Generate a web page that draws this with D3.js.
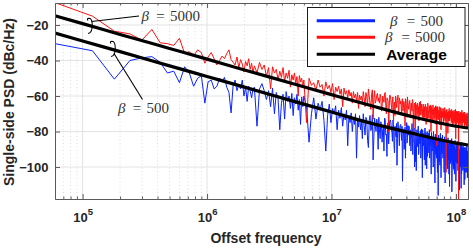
<!DOCTYPE html>
<html><head><meta charset="utf-8">
<script src="https://cdn.jsdelivr.net/npm/d3@7"></script>
<style>body{margin:0;background:#fff}svg{display:block}</style>
</head><body><svg id="c" width="473" height="248"></svg>
<script>
// FFT bin spacing (Hz) and the bins that are plotted
const binHz = 60000;
const binIndex = [].concat(d3.range(1, 40), d3.range(40, 100, 2), d3.range(100, 300, 5), d3.range(300, 2090, 10));
const binMid = d3.range(305, 2080, 10);

// beta = 500 (blue), dBc/Hz
const psd500 = [
  -30.5,-34.5,-50.5,-40,-38.5,-37.8,-41,-47,-46,-52.5,
  -43.5,-47,-54.5,-50,-48.5,-64,-52,-51,-56,-54.5,
  -50,-52,-49.5,-55,-58,-69.5,-54,-51,-57,-53.5,
  -56,-51,-60,-55,-63,-54.5,-57,-61,-56,
  -55,-77,-56,-53,-57,-62,-57,-66,-55.5,-70,
  -58,-61.5,-79,-64,-59,-73,-57.5,-63,-60,-67,
  -58.5,-71,-61,-64.5,-59,-68,-62,-76,-60.5,-66,
  -60,-66,-86,-70,-61,-73,-64,-68,-63,-74,
  -91,-71,-64.5,-75,-67,-70,-65.5,-79,-68,-72.5,
  -66.5,-77,-70,-73.5,-68,-88,-71,-75,-69.5,-80,
  -72,-76,-70,-95,-73,-77.5,-71,-79,-74,-84,
  -70,-82,-73.5,-89,-71,-78,-96,-72.5,-80,-75,
  -72,-84,-75.5,-79,-91,-73,-81.5,-76,-87,-74,
  -75,-80.5,-73.5,-88,-77,-83,-99,-74.5,-81,-78,
  -76,-85,-108,-80,-90,-77.5,-82,-75,-83.5,-79,
  -77,-88,-79.5,-84,-75.5,-93,-81,-86,-78,-97,
  -102,-79,-86.5,-77,-91,-83,-80,-95,-78.5,-85,
  -79,-88,-81,-96,-78,-86.5,-83,-101,-80,-89,
  -81,-92,-79,-87,-84,-98,-80.5,-90,-83,-86,
  -80,-89,-85,-109,-81.5,-93,-82,-87.5,-96,-84,
  -116,-82,-91,-85,-99,-81,-88.5,-94,-83.5,-90,
  -82,-95,-86,-90,-103,-83,-92,-87,-99,-85,
  -84,-91,-88,-101,-83.5,-96,-87,-93,-111,-86,
  -85,-98,-89,-92,-84,-111,-90,-95,-87,-101,
  -86,-93,-88.5,-104,-85,-97,-91,-100,-87,-95,
  -89,-96,-85.5,-102,-92,-88,-99,-90.5,-113,-94,
  -87,-100,-90,-95,-86,-104,-92,-97,-89,-101,
  -88,-94,-99,-91,-110,-89,-96,-93,-103,-90,
  -89,-97,-92,-101,-88,-95,-106,-91,-98
];
// beta = 500, in-between bins (binMid)
const psd500Mid = [
  -76.5,-72,-85,-74,-79.5,-70.5,-83,-77,-73,-90,
  -79,-74.5,-86,-77.5,-72.5,-82,-94,-75,-80,-73.5,
  -79,-85.5,-76,-92,-80.5,-75.5,-84,-78,-88,-76.5,
  -81,-77,-89,-78.5,-84,-95,-80,-86.5,-76.5,-82,
  -83,-79,-91,-81.5,-86,-78.5,-84,-100,-80,-88,
  -84,-88.5,-80.5,-93,-82,-87,-79.5,-90,-83.5,-106,
  -85,-81.5,-92,-84,-99,-80.5,-88,-85.5,-94,-82,
  -86,-82,-95,-84.5,-89,-104,-83,-91,-87,-100,
  -87,-83,-98,-86,-91.5,-82.5,-95,-88,-103,-85.5,
  -87.5,-84,-97,-89,-93,-85,-106,-88,-92.5,-86,
  -88,-93.5,-84.5,-98,-89,-86,-109,-90,-95,-87,
  -89,-94.5,-86,-99,-90.5,-88,-104,-91,-85.5,-97,
  -90,-87,-96.5,-89,-114,-91.5,-86.5,-99,-93,-88,
  -89.5,-102,-91,-87.5,-96,-90,-108,-92.5,-88,-98,
  -91,-97.5,-88,-100,-92.5,-89,-95,-105,-90,-93,
  -90.5,-96,-88.5,-112,-93,-91,-99,-89.5,-95.5,-102,
  -92,-89,-101,-94,-90.5,-98,-107,-91.5,-96,-89,
  -93,-99,-90,-103,-94.5,-91,-100,-95
];

// beta = 5000 (red), dBc/Hz
const psd5000 = [
  -7.4,-15,-23.5,-25,-28.5,-22.5,-30,-30.5,-31.5,-27.5,
  -36,-35,-37.5,-34,-35.5,-41.5,-38,-35.5,-39,-42.5,
  -40,-37.5,-39,-36,-34,-39.5,-41,-42.5,-38,-44,
  -39.5,-42,-46.5,-40.5,-43,-39,-45,-41.5,-47,
  -43,-47,-41,-45,-42.5,-49,-44,-56,-43.5,-47,
  -45,-51,-46,-49.5,-44,-52,-47,-50,-45.5,-55,
  -48,-51,-47,-53,-49,-60,-48.5,-52,-50,-55,
  -51,-75,-50,-54,-52.5,-57,-51,-55,-53.5,-60,
  -52,-56,-54,-58,-53,-62,-55,-57.5,-54.5,-59,
  -56,-66,-55.5,-59,-57,-61,-56.5,-60,-58,-64,
  -57.5,-61,-59,-63,-58,-67,-59.5,-62,-60,-64,
  -57.5,-66,-60.5,-56,-64,-59,-73,-57,-62.5,-58.5,
  -61,-59,-68.5,-60,-63.5,-58,-70,-61.5,-80,-59.5,
  -62,-67.5,-60.5,-65,-71,-61,-64,-59.5,-68,-62.5,
  -63,-70,-61.5,-66.5,-64,-77,-62,-67,-60.5,-65.5,
  -66,-62.5,-72,-64,-68.5,-63,-86,-65,-69.5,-63.5,
  -65,-71.5,-64,-68,-74,-63.5,-67,-70.5,-64.5,-69,
  -67,-64.5,-73,-66,-70.5,-65,-76,-66.5,-71,-64,
  -68,-72.5,-65.5,-70,-67,-80,-66,-71.5,-68.5,-65,
  -67.5,-74,-66.5,-71,-68,-73,-66,-88,-69,-70.5,
  -68,-71.5,-67,-76,-69.5,-66.5,-72,-68.5,-75,-67.5,
  -69,-72,-67.5,-74.5,-70,-68,-71,-69.5,-73,-103,
  -70,-67.5,-73,-69,-76,-68.5,-71.5,-67,-74,-70.5,
  -68,-72.5,-69.5,-75,-67.5,-71,-70,-77,-68.5,-73,
  -70,-68,-74,-69.5,-72,-67.5,-84,-70.5,-73.5,-68.5,
  -71,-69,-75,-70,-72.5,-118,-68.5,-74,-70,-76,
  -70.5,-73,-69,-76.5,-71,-72,-68,-78,-70,-74,
  -71,-69.5,-75,-72,-70,-77.5,-69,-73.5,-71.5,-76,
  -72,-70,-76,-71.5,-74,-69.5,-77,-72.5,-75
];
// beta = 5000, in-between bins (binMid)
const psd5000Mid = [
  -61,-58,-65,-60,-67.5,-56.5,-61.5,-64,-59.5,-63,
  -64,-60.5,-66,-62,-58.5,-65.5,-61,-63,-66.5,-60,
  -65.5,-61.5,-75,-63.5,-60,-66.5,-62.5,-70,-61,-64.5,
  -66,-62,-68.5,-63,-69,-61.5,-65,-72,-63.5,-67.5,
  -63,-70,-65.5,-67,-62,-69,-66.5,-64,-78,-66,
  -68,-64.5,-70,-66,-65,-71,-63,-69.5,-67,-72,
  -65.5,-69,-67,-72,-64.5,-68.5,-70,-66,-74,-67.5,
  -70,-66.5,-69,-73.5,-65,-71,-68,-74,-67,-70.5,
  -70,-66.5,-72.5,-69,-65.5,-76,-67.5,-71.5,-66,-73,
  -70,-73.5,-66,-70.5,-72.5,-68,-79,-70.5,-67,-72,
  -71,-67,-76,-69.5,-72.5,-66.5,-74,-70.5,-68,-72,
  -68.5,-72,-70,-81,-69.5,-74,-72.5,-69,-71.5,-68,
  -71,-69,-74,-70.5,-73.5,-68.5,-72,-69,-75.5,-70.5,
  -72,-70.5,-69,-75.5,-70,-73,-71.5,-68.5,-76,-71,
  -73,-70.5,-72,-68.5,-77,-71.5,-73.5,-70,-72,-69.5,
  -72,-75,-70.5,-73.5,-69.5,-75,-71,-74,-72.5,-70,
  -73,-70.5,-72.5,-69,-74.5,-71,-76.5,-70.5,-74,-72.5,
  -73.5,-71,-77,-70.5,-73,-75.5,-71.5,-74
];

// average curves
const avgFreq = [6e4, 1e5, 2e5, 5e5, 1e6, 2e6, 5e6, 1e7, 2e7, 5e7, 1e8, 1.25e8];
const avg5000 = [-14.8, -19.2, -25.3, -33.2, -39.2, -45.3, -53.2, -59.2, -65.1, -72.5, -77, -78];
const avg500  = [-24.5, -29, -35, -43, -49, -55, -63, -69, -75, -81.8, -86.5, -87.6];

const yTicks = [-100, -80, -60, -40, -20];
const xTicks = [1e5, 1e6, 1e7, 1e8];
const xTickExp = ["5", "6", "7", "8"];
const legendLabels = ["500", "5000", "Average"];

const svg = d3.select("#c");
const L = 55, R = 468, T = 3, B = 199;
const x = d3.scaleLog().domain([6e4, 1.25e8]).range([L, R]);
const y = d3.scaleLinear().domain([-118, -7.6]).range([B, T]);

const minor = [];
for (let e = 4; e <= 8; e++) for (let m = 2; m <= 9; m++) {
  const v = m * Math.pow(10, e);
  if (v > 6e4 && v < 1.25e8) minor.push(v);
}

// grid
const grid = svg.append("g");
grid.selectAll(".mn").data(minor).join("line")
  .attr("x1", d => x(d)).attr("x2", d => x(d)).attr("y1", T).attr("y2", B)
  .attr("stroke", "#cfcfcf").attr("stroke-width", 0.7).attr("stroke-dasharray", "1,2.5");
grid.selectAll(".mx").data(xTicks).join("line")
  .attr("x1", d => x(d)).attr("x2", d => x(d)).attr("y1", T).attr("y2", B)
  .attr("stroke", "#e3e3e3").attr("stroke-width", 1);
grid.selectAll(".my").data(yTicks).join("line")
  .attr("x1", L).attr("x2", R).attr("y1", d => y(d)).attr("y2", d => y(d))
  .attr("stroke", "#e3e3e3").attr("stroke-width", 1);

// data
svg.append("clipPath").attr("id", "clip").append("rect")
  .attr("x", L).attr("y", T).attr("width", R - L).attr("height", B - T);
const plot = svg.append("g").attr("clip-path", "url(#clip)");
function pts(arr, mid) {
  const a = [];
  const n = Math.min(binIndex.length, arr.length);
  for (let i = 0; i < n; i++) a.push({ f: binIndex[i] * binHz, v: arr[i] });
  const m = Math.min(binMid.length, mid.length);
  for (let i = 0; i < m; i++) a.push({ f: binMid[i] * binHz, v: mid[i] });
  return a.sort((p, q) => p.f - q.f);
}
const line = d3.line().x(d => x(d.f)).y(d => y(d.v));
plot.append("path").datum(pts(psd500, psd500Mid)).attr("d", line)
  .attr("fill", "none").attr("stroke", "#0a24ff").attr("stroke-width", 1);
plot.append("path").datum(pts(psd5000, psd5000Mid)).attr("d", line)
  .attr("fill", "none").attr("stroke", "#ff1010").attr("stroke-width", 1);
const avgLine = d3.line().x(d => x(d.f)).y(d => y(d.v)).curve(d3.curveMonotoneX);
[avg5000, avg500].forEach(a => {
  plot.append("path").datum(avgFreq.map((f, i) => ({ f, v: a[i] }))).attr("d", avgLine)
    .attr("fill", "none").attr("stroke", "#000").attr("stroke-width", 3.2);
});

// axes box & ticks
const axCol = "#5a5a5a";
function styleAxis(g) {
  g.select(".domain").attr("stroke", axCol);
  g.selectAll(".tick line").attr("stroke", axCol);
}
svg.append("g").attr("transform", `translate(0,${B})`)
  .call(d3.axisBottom(x).tickValues(xTicks).tickSize(-5).tickSizeOuter(0).tickFormat(""))
  .call(styleAxis);
svg.append("g").attr("transform", `translate(0,${B})`)
  .call(d3.axisBottom(x).tickValues(minor).tickSize(-2.5).tickSizeOuter(0).tickFormat(""))
  .call(styleAxis);
svg.append("g").attr("transform", `translate(0,${T})`)
  .call(d3.axisTop(x).tickValues(xTicks).tickSize(-5).tickSizeOuter(0).tickFormat(""))
  .call(styleAxis);
svg.append("g").attr("transform", `translate(0,${T})`)
  .call(d3.axisTop(x).tickValues(minor).tickSize(-2.5).tickSizeOuter(0).tickFormat(""))
  .call(styleAxis);
const yl = svg.append("g").attr("transform", `translate(${L},0)`)
  .call(d3.axisLeft(y).tickValues(yTicks).tickSize(-5).tickSizeOuter(0).tickPadding(6.5))
  .call(styleAxis);
yl.selectAll("text").attr("font-family", "Liberation Sans, Arial, sans-serif")
  .attr("font-size", 13).attr("font-weight", "bold").attr("fill", "#262626");
svg.append("g").attr("transform", `translate(${R},0)`)
  .call(d3.axisRight(y).tickValues(yTicks).tickSize(-5).tickSizeOuter(0).tickFormat(""))
  .call(styleAxis);

// x tick labels 10^n
const xt = svg.append("g").attr("font-family", "Liberation Sans, Arial, sans-serif")
  .attr("font-weight", "bold").attr("fill", "#262626");
xTicks.forEach((t, i) => {
  const tx = xt.append("text").attr("x", x(t) + 0.5).attr("y", 222.3).attr("text-anchor", "middle");
  tx.append("tspan").attr("font-size", 13).text("10");
  tx.append("tspan").attr("font-size", 9.5).attr("dy", -7).text(xTickExp[i]);
});

// axis titles
svg.append("text").attr("x", 266).attr("y", 243)
  .attr("text-anchor", "middle").attr("font-family", "Liberation Sans, Arial, sans-serif")
  .attr("font-size", 14).attr("font-weight", "bold").attr("fill", "#262626")
  .text("Offset frequency");
svg.append("text").attr("transform", "translate(14,102) rotate(-90)")
  .attr("text-anchor", "middle").attr("font-family", "Liberation Sans, Arial, sans-serif")
  .attr("font-size", 14).attr("font-weight", "bold").attr("fill", "#262626")
  .text("Single-side PSD (dBc/Hz)");

// beta label helper
function beta(g, xb, xe, xn, yb, num, size) {
  const t = g.append("g").attr("font-family", "Liberation Serif, Times New Roman, serif")
    .attr("font-size", size).attr("fill", "#333");
  t.append("text").attr("x", xb).attr("y", yb).attr("font-style", "italic").text("β");
  t.append("text").attr("x", xe).attr("y", yb).attr("text-anchor", "middle").text("=");
  t.append("text").attr("x", xn).attr("y", yb).text(num);
}

// annotations
const ann = svg.append("g").attr("fill", "none").attr("stroke", "#000").attr("stroke-width", 1.1);
function curl(cx, cy) {
  ann.append("path").attr("d",
    `M${cx - 1.5},${cy - 5.5} Q${cx - 3},${cy - 7.5} ${cx - 0.5},${cy - 7.8} C${cx + 4},${cy - 7.5} ${cx + 4},${cy + 7} ${cx - 1.5},${cy + 7.5}`);
}
curl(89.5, 26);
curl(112.5, 49);
ann.append("line").attr("x1", 91.5).attr("y1", 21.5).attr("x2", 139).attr("y2", 16);
ann.append("line").attr("x1", 114).attr("y1", 53.5).attr("x2", 142.5).attr("y2", 99.5);
beta(svg, 141.5, 160.5, 170, 20.8, "5000", 15);
beta(svg, 118, 137, 146.5, 113.3, "500", 15);

// legend
const lg = svg.append("g");
lg.append("rect").attr("x", 307.5).attr("y", 7.5).attr("width", 157.5).attr("height", 59)
  .attr("fill", "#fff").attr("stroke", "#1a1a1a").attr("stroke-width", 1);
const legCols = ["#0a24ff", "#ff1010", "#000"];
const legY = [20.7, 37.3, 54.3];
legCols.forEach((c, i) => {
  lg.append("line").attr("x1", 316.7).attr("x2", 375).attr("y1", legY[i]).attr("y2", legY[i])
    .attr("stroke", c).attr("stroke-width", 3);
});
beta(lg, 390, 411, 420.5, legY[0] + 5, legendLabels[0], 15);
beta(lg, 385, 405.8, 415, legY[1] + 5, legendLabels[1], 15);
lg.append("text").attr("x", 416.5).attr("y", legY[2] + 5.3).attr("text-anchor", "middle")
  .attr("font-family", "Liberation Sans, Arial, sans-serif").attr("font-weight", "bold")
  .attr("font-size", 15.5).attr("fill", "#000").text(legendLabels[2]);
</script></body></html>
